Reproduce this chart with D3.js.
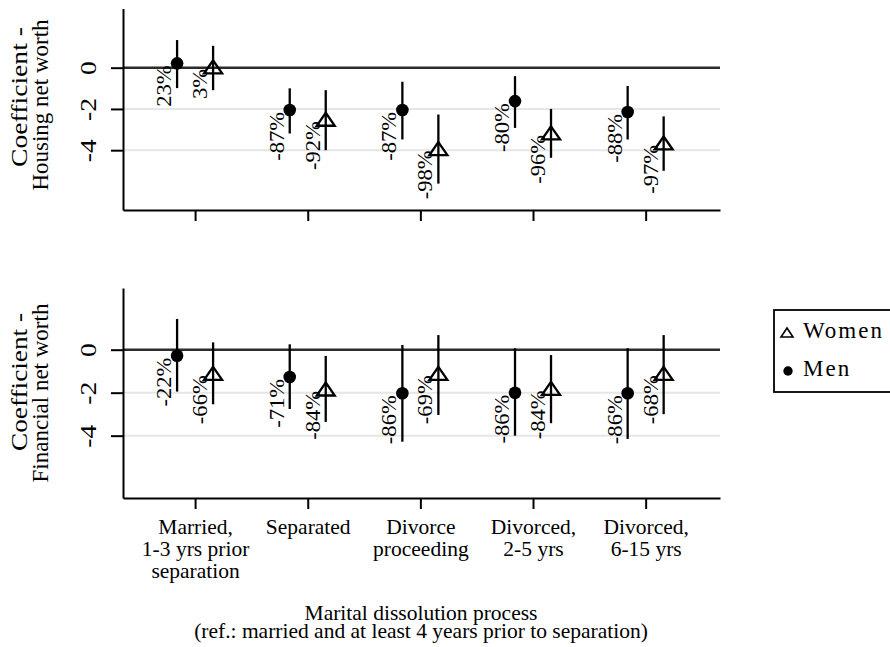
<!DOCTYPE html>
<html>
<head>
<meta charset="utf-8">
<script src="https://cdn.jsdelivr.net/npm/d3@7"></script>
<style>
	body { margin: 0; background: #fff; }
	svg { display: block; }
</style>
</head>
<body>
<script>
//categories along the x axis, one entry per line of the tick label
let categories = ["Married, 1-3 yrs prior separation", "Separated", "Divorce proceeding", "Divorced, 2-5 yrs", "Divorced, 6-15 yrs"];
let catLines = [["Married,", "1-3 yrs prior", "separation"], ["Separated"], ["Divorce", "proceeding"], ["Divorced,", "2-5 yrs"], ["Divorced,", "6-15 yrs"]];
let yTicks = [0, -2, -4];
let gridTicks = [-2, -4];

//housing net worth
let housingMen = [0.21, -2.05, -2.05, -1.62, -2.15];
let housingMenLo = [-0.99, -3.19, -3.48, -2.92, -3.48];
let housingMenHi = [1.34, -1.0, -0.68, -0.41, -0.89];
let housingMenPct = ["23%", "-87%", "-87%", "-80%", "-88%"];
let housingWomen = [0.04, -2.5, -3.92, -3.16, -3.65];
let housingWomenLo = [-1.09, -4.0, -5.62, -4.37, -5.0];
let housingWomenHi = [1.06, -1.09, -2.27, -2.0, -2.36];
let housingWomenPct = ["3%", "-92%", "-98%", "-96%", "-97%"];

//financial net worth
let financialMen = [-0.28, -1.27, -2.03, -2.0, -2.03];
let financialMenLo = [-1.95, -2.76, -4.28, -4.0, -4.15];
let financialMenHi = [1.43, 0.25, 0.22, 0.07, 0.07];
let financialMenPct = ["-22%", "-71%", "-86%", "-86%", "-86%"];
let financialWomen = [-1.1, -1.83, -1.1, -1.8, -1.1];
let financialWomenLo = [-2.54, -3.36, -3.04, -3.42, -3.0];
let financialWomenHi = [0.34, -0.29, 0.68, -0.25, 0.68];
let financialWomenPct = ["-66%", "-84%", "-69%", "-84%", "-68%"];

let svg = d3.select("body").append("svg")
	.attr("width", 890)
	.attr("height", 647);

let font = "'Liberation Serif', 'Times New Roman', serif";

//shared x scale (category index), plot runs from 123 to 720
let x = d3.scaleLinear().domain([-0.64, 4.66]).range([123, 720]);
let offset = 18; //men left of the tick, women right

//build the two panels from the arrays
function series(vals, lo, hi, pct) {
	return vals.map((v, i) => ({i: i, v: v, lo: lo[i], hi: hi[i], pct: pct[i]}));
}

let panels = [
	{
		top: 8.5, bottom: 210,
		title: ["Coefficient -", "Housing net worth"], titleY: [97, 105], titleLen: 140,
		men: series(housingMen, housingMenLo, housingMenHi, housingMenPct),
		women: series(housingWomen, housingWomenLo, housingWomenHi, housingWomenPct),
		labels: false
	},
	{
		top: 288, bottom: 498,
		title: ["Coefficient -", "Financial net worth"], titleY: [382, 393], titleLen: 138,
		men: series(financialMen, financialMenLo, financialMenHi, financialMenPct),
		women: series(financialWomen, financialWomenLo, financialWomenHi, financialWomenPct),
		labels: true
	}
];

let triangle = "M0,-6.5L9,6.5L-9,6.5Z";

panels.forEach(p => {
	let y = d3.scaleLinear().domain([-6.9, 2.87]).range([p.bottom, p.top]);
	let g = svg.append("g");

	//light gridlines
	g.selectAll(".grid").data(gridTicks).enter().append("line")
		.attr("x1", x.range()[0]).attr("x2", x.range()[1])
		.attr("y1", d => y(d)).attr("y2", d => y(d))
		.attr("stroke", "#e6e6e6")
		.attr("stroke-width", 2);

	//reference line at zero
	g.append("line")
		.attr("x1", x.range()[0]).attr("x2", x.range()[1])
		.attr("y1", y(0)).attr("y2", y(0))
		.attr("stroke", "#2b2b2b")
		.attr("stroke-width", 2.5);

	//y axis (plain hyphen for negatives)
	let yG = g.append("g")
		.attr("transform", `translate(${x.range()[0]},0)`)
		.call(d3.axisLeft(y).tickValues(yTicks).tickSize(12).tickSizeOuter(0).tickFormat(d => String(d)));
	yG.selectAll("path, line").attr("stroke", "#000").attr("stroke-width", 2);
	yG.selectAll("text")
		.attr("x", null).attr("dy", null)
		.attr("text-anchor", "middle")
		.attr("font-family", font)
		.attr("font-size", 24)
		.attr("fill", "#000")
		.attr("transform", "translate(-27,0) scale(1,1.15) rotate(-90)");

	//x axis
	let xG = g.append("g")
		.attr("transform", `translate(0,${p.bottom})`)
		.call(d3.axisBottom(x).tickValues(d3.range(categories.length)).tickSize(11).tickSizeOuter(0)
			.tickFormat(i => p.labels ? categories[i] : ""));
	xG.selectAll("path, line").attr("stroke", "#000").attr("stroke-width", 2);
	xG.selectAll("text").each(function(i) {
		let t = d3.select(this).text(null).attr("y", 0).attr("dy", null)
			.attr("font-family", font).attr("font-size", 21.5).attr("fill", "#000");
		if (!p.labels) return;
		catLines[i].forEach((line, k) => {
			t.append("tspan").attr("x", 0).attr("y", 35.5 + k * 22).text(line);
		});
	});

	//y title, two rotated lines; the first line is drawn a bit wider
	p.title.forEach((line, k) => {
		let t = g.append("text")
			.attr("font-family", font)
			.attr("font-size", 23)
			.attr("text-anchor", "middle")
			.attr("transform", `translate(${k === 0 ? 27 : 47.5},${p.titleY[k]}) rotate(-90)`)
			.text(line);
		if (k === 0) t.attr("textLength", p.titleLen).attr("lengthAdjust", "spacingAndGlyphs");
	});

	//confidence intervals
	let all = p.men.map(d => Object.assign({dx: -offset}, d))
		.concat(p.women.map(d => Object.assign({dx: offset}, d)));

	g.selectAll(".ci").data(all).enter().append("line")
		.attr("x1", d => x(d.i) + d.dx).attr("x2", d => x(d.i) + d.dx)
		.attr("y1", d => y(d.lo)).attr("y2", d => y(d.hi))
		.attr("stroke", "#000")
		.attr("stroke-width", 2.3);

	//men: filled circles
	g.selectAll(".men").data(p.men).enter().append("circle")
		.attr("cx", d => x(d.i) - offset)
		.attr("cy", d => y(d.v))
		.attr("r", 6.3)
		.attr("fill", "#000");

	//women: hollow triangles
	g.selectAll(".women").data(p.women).enter().append("path")
		.attr("d", triangle)
		.attr("transform", d => `translate(${x(d.i) + offset},${y(d.v)})`)
		.attr("fill", "none")
		.attr("stroke", "#000")
		.attr("stroke-width", 2.3);

	//percentage labels, rotated, ending at the marker
	g.selectAll(".pct").data(all).enter().append("text")
		.attr("font-family", font)
		.attr("font-size", 20.5)
		.attr("text-anchor", "end")
		.attr("transform", d => `translate(${x(d.i) + d.dx - 6},${y(d.v) + 2}) scale(1,1.1) rotate(-90)`)
		.text(d => d.pct);
});

//x axis title
let xTitle = svg.append("text")
	.attr("font-family", font)
	.attr("font-size", 21.5)
	.attr("text-anchor", "middle");
xTitle.append("tspan").attr("x", 421).attr("y", 620).text("Marital dissolution process");
xTitle.append("tspan").attr("x", 421).attr("y", 638).text("(ref.: married and at least 4 years prior to separation)");

//legend
let legend = svg.append("g");
legend.append("rect")
	.attr("x", 774).attr("y", 310)
	.attr("width", 140).attr("height", 82)
	.attr("fill", "#fff")
	.attr("stroke", "#000")
	.attr("stroke-width", 1.8);
legend.append("path")
	.attr("d", "M0,-4.5L6,4.5L-6,4.5Z")
	.attr("transform", "translate(787,332.5)")
	.attr("fill", "none")
	.attr("stroke", "#000")
	.attr("stroke-width", 1.6);
legend.append("circle")
	.attr("cx", 788).attr("cy", 371).attr("r", 4.7)
	.attr("fill", "#000");
legend.selectAll(".lt").data(["Women", "Men"]).enter().append("text")
	.attr("x", 803)
	.attr("y", (d, i) => i === 0 ? 337.5 : 376)
	.attr("font-family", font)
	.attr("font-size", 23)
	.attr("letter-spacing", 2)
	.text(d => d);
</script>
</body>
</html>
